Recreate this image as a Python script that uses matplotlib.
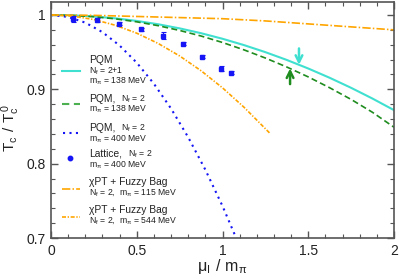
import numpy as np
import matplotlib
matplotlib.use('Agg')
import matplotlib.pyplot as plt
from matplotlib.ticker import MultipleLocator, FuncFormatter

plt.rcParams['font.family'] = ['Liberation Sans', 'DejaVu Sans']
plt.rcParams['mathtext.default'] = 'regular'

# DATA
x_pqm = [0, 0.125, 0.25, 0.375, 0.5, 0.625, 0.75, 0.875, 1.0, 1.125, 1.25,
         1.375, 1.5, 1.625, 1.75, 1.875, 2.0]
pqm_21_138 = [1.0, 0.9995, 0.998, 0.9955, 0.992, 0.9875, 0.982, 0.9755, 0.968,
              0.9595, 0.950, 0.9395, 0.928, 0.9155, 0.902, 0.8875, 0.872]
pqm_2_138 = [1.0, 0.9994, 0.9977, 0.9948, 0.9908, 0.9856, 0.9792, 0.9717, 0.963,
             0.9531, 0.9421, 0.930, 0.9167, 0.9021, 0.8864, 0.869, 0.849]

x_pqm400 = [0, 0.1, 0.2, 0.3, 0.4, 0.5, 0.6, 0.7, 0.8, 0.9, 1.0, 1.1]
pqm_2_400 = [1.0, 0.9974, 0.9897, 0.9769, 0.9589, 0.9358, 0.9075, 0.8741,
             0.8355, 0.7918, 0.743, 0.689]

x_lat = [0.128, 0.268, 0.397, 0.525, 0.653, 0.770, 0.880, 0.991, 1.050]
tc_lat = [0.995, 0.993, 0.988, 0.981, 0.972, 0.961, 0.944, 0.928, 0.922]
err_lat = [0.004, 0.003, 0.002, 0.002, 0.0045, 0.002, 0.002, 0.003, 0.002]

x_bag115 = [0, 0.25, 0.5, 0.75, 1.0, 1.25, 1.5, 1.75, 2.0]
bag115 = [1.0, 0.9995, 0.998, 0.9965, 0.995, 0.992, 0.988, 0.984, 0.980]

x_bag544 = [0, 0.125, 0.25, 0.375, 0.5, 0.625, 0.75, 0.875, 1.0, 1.125, 1.25, 1.28]
bag544 = [1.0, 0.9985, 0.9939, 0.9862, 0.9755, 0.9617, 0.9449, 0.925, 0.902,
          0.876, 0.847, 0.840]

# arrows: (x, tail, head)
arrow_cyan = (1.446, 0.955, 0.933)
arrow_green = (1.394, 0.907, 0.928)

CYAN = '#40E0D0'
GREEN = '#1E8C1E'
BLUE = '#1515F5'
ORANGE = '#FFA500'

fig = plt.figure(figsize=(3.99, 2.79), dpi=100)
ax = fig.add_axes([51/399, 1-238/279, 343/399, 236.4/279])

ax.plot(x_pqm, pqm_21_138, color=CYAN, lw=1.5)
ax.plot(x_pqm, pqm_2_138, color=GREEN, lw=1.2, dashes=(3.6, 2.0))
ax.plot(x_pqm400, pqm_2_400, color=BLUE, lw=1.5, dashes=(1, 2.1))
ax.plot(x_bag115, bag115, color=ORANGE, lw=1.2, dashes=(5, 1.3, 0.9, 1.3))
ax.plot(x_bag544, bag544, color=ORANGE, lw=1.2, dashes=(2.4, 1.0, 0.8, 1.0))
ax.errorbar(x_lat, tc_lat, yerr=err_lat, fmt='s', color=BLUE, ms=3.2,
            elinewidth=0.8, capsize=1.8, capthick=0.8)

ax.annotate('', xy=(arrow_cyan[0], arrow_cyan[2]), xytext=(arrow_cyan[0], arrow_cyan[1]),
            arrowprops=dict(arrowstyle='->', color=CYAN, lw=1.8, mutation_scale=12,
                            shrinkA=0, shrinkB=0))
ax.annotate('', xy=(arrow_green[0], arrow_green[2]), xytext=(arrow_green[0], arrow_green[1]),
            arrowprops=dict(arrowstyle='->', color=GREEN, lw=1.8, mutation_scale=12,
                            shrinkA=0, shrinkB=0))

ax.set_xlim(0, 2)
ax.set_ylim(0.7, 1.018)
ax.xaxis.set_major_locator(MultipleLocator(0.5))
ax.xaxis.set_minor_locator(MultipleLocator(0.1))
ax.yaxis.set_major_locator(MultipleLocator(0.1))
ax.yaxis.set_minor_locator(MultipleLocator(0.02))
fmt = FuncFormatter(lambda v, p: '%g' % round(v, 3))
ax.xaxis.set_major_formatter(fmt)
ax.yaxis.set_major_formatter(fmt)
ax.tick_params(which='both', direction='in', top=True, right=True,
               color='#555555', labelsize=10, labelcolor='#222222')
ax.tick_params(which='major', length=5, width=1.0, pad=4)
ax.tick_params(which='minor', length=3, width=0.8)
for s in ax.spines.values():
    s.set_color('#555555')
    s.set_linewidth(1.2)

ax.set_xlabel(r'$\mu_{I}\ /\ m_{\pi}$', fontsize=11.5, color='#222222')
ax.xaxis.set_label_coords(0.5, -0.08)
# y label placed by hand so it stays inside the figure
fig.text(11/399, 1-128/279, r'$T_c\ /\ T_c^{\,0}$', fontsize=11, color='#222222',
         rotation=90, ha='center', va='center')

# LEGEND (drawn by hand, pixel positions converted to axes fraction)
def px(x, y):
    return ((x - 51) / 343.0, (238 - y) / 236.4)

big = 7.4
small = 6.2
tc = '#222222'
T = ax.transAxes

def line_key(y, x1, x2, **kw):
    a, b = px(x1, y), px(x2, y)
    ax.plot([a[0], b[0]], [a[1], b[1]], transform=T, clip_on=False, **kw)

def txt(x, y, s, size):
    ax.text(*px(x, y), s, transform=T, fontsize=size, color=tc, va='center', ha='left')

txt(89, 60, 'PQM', big)
txt(89, 71, r'N$_f$ = 2+1', small)
txt(89, 81, r'm$_\pi$ = 138 MeV', small)
line_key(71, 62, 80, color=CYAN, lw=1.5)

txt(89, 99, 'PQM,', big)
txt(121, 99, r'N$_f$ = 2', small)
txt(89, 109, r'm$_\pi$ = 138 MeV', small)
line_key(104, 62, 80, color='#4CAF50', lw=1.5, dashes=(3.5, 2.2))

txt(89, 128, 'PQM,', big)
txt(121, 128, r'N$_f$ = 2', small)
txt(89, 139, r'm$_\pi$ = 400 MeV', small)
line_key(133, 63, 78, color=BLUE, lw=1.5, dashes=(1, 2.1))

txt(89, 154, 'Lattice,', big)
txt(128, 154, r'N$_f$ = 2', small)
txt(89, 165, r'm$_\pi$ = 400 MeV', small)
ax.plot(*px(70, 158), marker='o', ms=3.2, color=BLUE, transform=T, clip_on=False)

txt(89, 182, u'\u03c7PT + Fuzzy Bag', big)
txt(89, 193, r'N$_f$ = 2,  m$_\pi$ = 115 MeV', small)
line_key(189, 62, 80, color=ORANGE, lw=1.2, dashes=(5, 1.3, 0.9, 1.3))

txt(89, 210, u'\u03c7PT + Fuzzy Bag', big)
txt(89, 221, r'N$_f$ = 2,  m$_\pi$ = 544 MeV', small)
line_key(217, 62, 80, color=ORANGE, lw=1.2, dashes=(2.4, 1.0, 0.8, 1.0))

fig.savefig('out.png', dpi=100)
